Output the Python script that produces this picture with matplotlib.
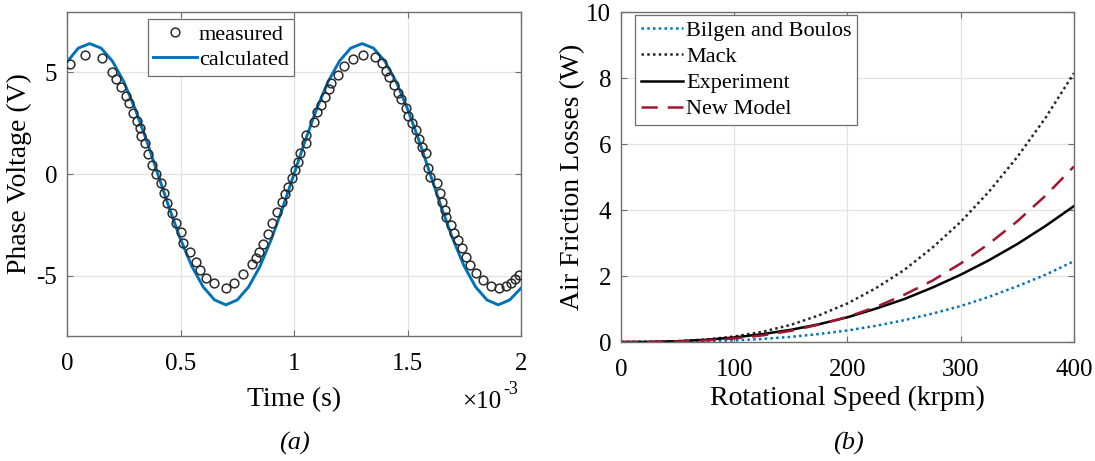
import matplotlib

matplotlib.use("Agg")
import matplotlib.pyplot as plt

plt.rcParams.update({"font.family": ["Liberation Serif", "DejaVu Serif"], "font.size": 17})

# (a) phase voltage, time in ms (axis shows x10^-3 s)
t_calc = [0.00, 0.05, 0.10, 0.15, 0.20, 0.25, 0.30, 0.35, 0.40, 0.45, 0.50,
          0.55, 0.60, 0.65, 0.70, 0.75, 0.80, 0.85, 0.90, 0.95, 1.00,
          1.05, 1.10, 1.15, 1.20, 1.25, 1.30, 1.35, 1.40, 1.45, 1.50,
          1.55, 1.60, 1.65, 1.70, 1.75, 1.80, 1.85, 1.90, 1.95, 2.00]
v_calc = [5.50, 6.18, 6.40, 6.18, 5.54, 4.53, 3.20, 1.66, 0.00, -1.66, -3.20,
          -4.53, -5.54, -6.18, -6.42, -6.18, -5.54, -4.53, -3.20, -1.66, 0.00,
          1.66, 3.20, 4.53, 5.54, 6.18, 6.40, 6.18, 5.54, 4.53, 3.20,
          1.66, 0.00, -1.66, -3.20, -4.53, -5.54, -6.18, -6.42, -6.18, -5.60]

t_meas = [0.012, 0.078, 0.154, 0.196, 0.218, 0.240, 0.258, 0.274, 0.291, 0.309,
          0.320, 0.328, 0.343, 0.357, 0.376, 0.394, 0.412, 0.427, 0.441, 0.463,
          0.482, 0.504, 0.511, 0.541, 0.568, 0.585, 0.612, 0.647, 0.700, 0.735,
          0.776, 0.817, 0.832, 0.846, 0.864, 0.886, 0.901, 0.927, 0.945, 0.959,
          0.974, 0.989, 1.004, 1.018, 1.026, 1.052, 1.055, 1.087, 1.102, 1.118,
          1.136, 1.154, 1.161, 1.195, 1.221, 1.258, 1.302, 1.357, 1.386, 1.404,
          1.418, 1.442, 1.459, 1.471, 1.492, 1.503, 1.518, 1.536, 1.550, 1.562,
          1.580, 1.591, 1.599, 1.628, 1.643, 1.653, 1.665, 1.668, 1.691, 1.706,
          1.724, 1.741, 1.757, 1.775, 1.801, 1.834, 1.867, 1.903, 1.932, 1.956,
          1.974, 1.991]
v_meas = [5.40, 5.84, 5.68, 5.02, 4.66, 4.26, 3.83, 3.47, 3.01, 2.62,
          2.24, 1.87, 1.51, 0.98, 0.44, 0.00, -0.46, -0.95, -1.44, -1.93,
          -2.42, -2.83, -3.37, -3.81, -4.30, -4.71, -5.12, -5.37, -5.57, -5.34,
          -4.93, -4.42, -4.14, -3.82, -3.41, -2.92, -2.42, -1.85, -1.36, -1.00,
          -0.62, -0.21, 0.20, 0.61, 1.02, 1.51, 1.92, 2.57, 3.06, 3.39,
          3.77, 4.16, 4.46, 4.86, 5.31, 5.63, 5.85, 5.73, 5.44, 5.08,
          4.78, 4.37, 4.00, 3.67, 3.23, 2.85, 2.52, 2.16, 1.70, 1.34,
          1.02, 0.28, -0.13, -0.46, -0.95, -1.36, -1.77, -2.13, -2.51, -2.88,
          -3.24, -3.65, -4.06, -4.47, -4.88, -5.18, -5.50, -5.57, -5.50, -5.34,
          -5.13, -4.96]

t_ticks = [0, 0.5, 1, 1.5, 2]
t_ticklabels = ["0", "0.5", "1", "1.5", "2"]
v_ticks = [-5, 0, 5]
v_ticklabels = ["-5", "0", "5"]

# (b) air friction losses vs rotational speed
speed = [0, 25, 50, 75, 100, 125, 150, 175, 200, 225, 250, 275, 300, 325, 350, 375, 400]
bilgen = [0, 0.001, 0.007, 0.023, 0.05, 0.093, 0.156, 0.243, 0.35, 0.49, 0.66,
          0.86, 1.09, 1.37, 1.69, 2.04, 2.45]
mack = [0, 0.0035, 0.024, 0.075, 0.168, 0.31, 0.52, 0.81, 1.17, 1.63, 2.18,
        2.86, 3.64, 4.56, 5.61, 6.80, 8.15]
experiment = [0, 0.0046, 0.025, 0.068, 0.138, 0.24, 0.37, 0.54, 0.75, 1.01, 1.30,
              1.65, 2.04, 2.48, 2.97, 3.52, 4.12]
new_model = [0, 0.0023, 0.016, 0.049, 0.11, 0.20, 0.34, 0.53, 0.76, 1.06, 1.43,
             1.86, 2.38, 2.98, 3.66, 4.44, 5.32]

FRAME = "#6e6e6e"
GRID = "#e3e3e3"


def style(ax):
    for s in ax.spines.values():
        s.set_color(FRAME)
        s.set_linewidth(1.0)
    ax.grid(True, color=GRID, lw=0.9)
    ax.set_axisbelow(True)
    ax.tick_params(direction="in", length=4, color=FRAME, labelsize=18, pad=7,
                   top=True, right=True)
    ax.tick_params(axis="x", pad=12)


fig = plt.figure(figsize=(10.95, 4.61), dpi=100)
ax1 = fig.add_axes([0.0612, 0.2711, 0.4146, 0.7028])
ax2 = fig.add_axes([0.5671, 0.2581, 0.4137, 0.7158])

# left panel
style(ax1)
ax1.plot(t_meas, v_meas, "o", mfc="none", mec="#2b2b2b", ms=6.3, mew=1.1,
         label="measured", zorder=3)
ax1.plot(t_calc, v_calc, color="#0072BD", lw=2.1, label="calculated", zorder=2)
ax1.set_xlim(0, 2)
ax1.set_ylim(-7.95, 7.95)
ax1.set_xticks(t_ticks, t_ticklabels)
ax1.set_yticks(v_ticks, v_ticklabels)
ax1.set_xlabel("Time (s)", fontsize=20, labelpad=9)
ax1.set_ylabel("Phase Voltage (V)", fontsize=20, labelpad=3)
leg = ax1.legend(loc="upper left", bbox_to_anchor=(0.178, 0.978), borderaxespad=0,
                 fontsize=16, handlelength=1.95, handletextpad=0.1, labelspacing=0.2,
                 borderpad=0.25, fancybox=False, framealpha=1, edgecolor=FRAME)
leg.get_frame().set_linewidth(0.9)
fig.text(462 / 1095, 1 - 402 / 461, "×10", fontsize=18, va="center", ha="left")
fig.text(503 / 1095, 1 - 390 / 461, "-3", fontsize=13, va="center", ha="left")
fig.text(294 / 1095, 1 - 443 / 461, "(a)", fontsize=19, style="italic",
         ha="center", va="center")

# right panel
style(ax2)
ax2.plot(speed, bilgen, color="#0072BD", lw=1.8, ls=(0, (1, 1.3)), label="Bilgen and Boulos")
ax2.plot(speed, mack, color="#262626", lw=1.8, ls=(0, (1, 1.3)), label="Mack")
ax2.plot(speed, experiment, color="black", lw=1.8, label="Experiment")
ax2.plot(speed, new_model, color="#A2142F", lw=1.8, ls=(0, (6.5, 4)), label="New Model")
ax2.set_xlim(0, 400)
ax2.set_ylim(0, 10)
ax2.set_xticks([0, 100, 200, 300, 400])
ax2.set_yticks([0, 2, 4, 6, 8, 10])
ax2.set_xlabel("Rotational Speed (krpm)", fontsize=20, labelpad=4)
ax2.set_ylabel("Air Friction Losses (W)", fontsize=20, labelpad=1)
leg2 = ax2.legend(loc="upper left", bbox_to_anchor=(0.031, 0.991), borderaxespad=0,
                  fontsize=16, handlelength=1.9, handletextpad=0.15, labelspacing=0.25,
                  borderpad=0.25, fancybox=False, framealpha=1, edgecolor=FRAME)
leg2.get_frame().set_linewidth(0.9)
fig.text(848 / 1095, 1 - 443 / 461, "(b)", fontsize=19, style="italic",
         ha="center", va="center")

fig.savefig("out.png", dpi=100)
